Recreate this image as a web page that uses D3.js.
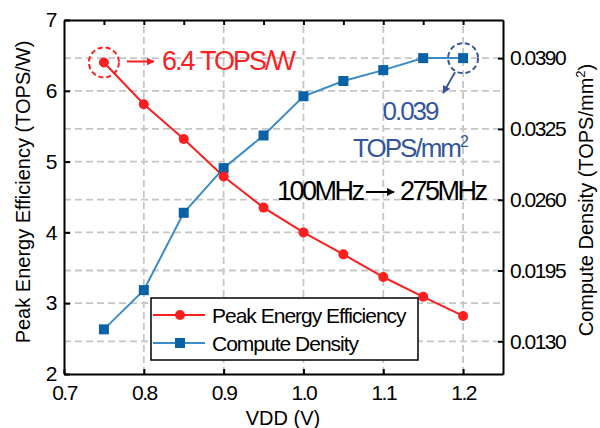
<!DOCTYPE html>
<html>
<head>
<meta charset="utf-8">
<script src="https://cdn.jsdelivr.net/npm/d3@7"></script>
<style>
  body { margin: 0; background: #fff; }
  svg { font-family: "Liberation Sans", Arial, sans-serif; }
</style>
</head>
<body>
<div id="chart"></div>
<script>
// values
const vdd = [0.75, 0.8, 0.85, 0.9, 0.95, 1.0, 1.05, 1.1, 1.15, 1.2];
const efficiency = [6.4, 5.81, 5.32, 4.79, 4.35, 4.0, 3.69, 3.37, 3.09, 2.82];
const density = [0.0141, 0.0177, 0.0248, 0.0289, 0.0319, 0.0355, 0.0369, 0.0379, 0.0390, 0.0390];

const xTicks = [0.7, 0.8, 0.9, 1.0, 1.1, 1.2];
const xMinorTicks = [0.75, 0.8, 0.85, 0.9, 0.95, 1.0, 1.05, 1.1, 1.15, 1.2];
const leftTicks = [2, 3, 4, 5, 6, 7];
const rightTicks = [0.013, 0.0195, 0.026, 0.0325, 0.039];

const red = "#fb1f1f";
const blueLine = "#3b8cc6";
const blueMark = "#0a62a6";
const navy = "#33569c";

function buildChart() {
    const svg = d3.select("#chart")
        .append("svg")
        .attr("width", 600)
        .attr("height", 428);

    const x = d3.scaleLinear().domain([0.7, 1.25]).range([64, 503]);
    const yL = d3.scaleLinear().domain([2, 7]).range([374, 20]);
    const yR = d3.scaleLinear().domain([0.0100, 0.0425]).range([374, 20]);

    // dashed grid
    const grid = svg.append("g")
        .attr("stroke", "#c6c6c6")
        .attr("stroke-width", 1.8)
        .attr("stroke-dasharray", "7,4");
    grid.selectAll(".gx").data(xTicks.slice(1)).enter().append("line")
        .attr("x1", d => x(d)).attr("x2", d => x(d))
        .attr("y1", yL(2)).attr("y2", yL(7));
    grid.selectAll(".gl").data(leftTicks.slice(1, -1)).enter().append("line")
        .attr("x1", x(0.7)).attr("x2", x(1.25))
        .attr("y1", d => yL(d)).attr("y2", d => yL(d));
    grid.selectAll(".gr").data(rightTicks).enter().append("line")
        .attr("x1", x(0.7)).attr("x2", x(1.25))
        .attr("y1", d => yR(d)).attr("y2", d => yR(d));

    // axes, ticks pointing inward
    const styleAxis = g => {
        g.select(".domain").attr("stroke", "#000").attr("stroke-width", 2);
        g.selectAll(".tick line").attr("stroke", "#000").attr("stroke-width", 2);
        g.selectAll(".tick text")
            .attr("fill", "#000")
            .style("font-size", "21px")
            .style("letter-spacing", "-1.5px");
    };

    svg.append("g")
        .attr("transform", `translate(0,${yL(2)})`)
        .call(d3.axisBottom(x).tickValues(xTicks).tickFormat(d3.format(".1f"))
            .tickSize(-5).tickSizeOuter(0).tickPadding(11))
        .call(styleAxis);

    svg.append("g")
        .attr("transform", `translate(0,${yL(7)})`)
        .call(d3.axisTop(x).tickValues(xMinorTicks).tickFormat("")
            .tickSize(-5).tickSizeOuter(0))
        .call(styleAxis);

    svg.append("g")
        .attr("transform", `translate(${x(0.7)},0)`)
        .call(d3.axisLeft(yL).tickValues(leftTicks).tickFormat(d3.format("d"))
            .tickSize(-6).tickSizeOuter(0).tickPadding(8))
        .call(styleAxis);

    svg.append("g")
        .attr("transform", `translate(${x(1.25)},0)`)
        .call(d3.axisRight(yR).tickValues(rightTicks).tickFormat(d3.format(".4f"))
            .tickSize(-5).tickSizeOuter(0).tickPadding(7))
        .call(styleAxis);

    // axis titles
    svg.append("text")
        .attr("x", 283).attr("y", 425)
        .attr("text-anchor", "middle")
        .style("font-size", "20px")
        .text("VDD (V)");

    svg.append("text")
        .attr("transform", "translate(30,192) rotate(-90)")
        .attr("text-anchor", "middle")
        .style("font-size", "20px")
        .text("Peak Energy Efficiency (TOPS/W)");

    const rTitle = svg.append("text")
        .attr("transform", "translate(593,200) rotate(-90)")
        .attr("text-anchor", "middle")
        .style("font-size", "20px");
    rTitle.append("tspan").text("Compute Density (TOPS/mm");
    rTitle.append("tspan").attr("dy", -8).style("font-size", "13px").text("2");
    rTitle.append("tspan").attr("dy", 8).text(")");

    // series
    const effLine = d3.line().x((d, i) => x(vdd[i])).y(d => yL(d));
    const denLine = d3.line().x((d, i) => x(vdd[i])).y(d => yR(d));

    svg.append("path").datum(density)
        .attr("fill", "none").attr("stroke", blueLine).attr("stroke-width", 2)
        .attr("d", denLine);
    svg.append("path").datum(efficiency)
        .attr("fill", "none").attr("stroke", red).attr("stroke-width", 2)
        .attr("d", effLine);

    svg.selectAll(".sq").data(density).enter().append("rect")
        .attr("x", (d, i) => x(vdd[i]) - 5)
        .attr("y", d => yR(d) - 5)
        .attr("width", 10).attr("height", 10)
        .attr("fill", blueMark);
    svg.selectAll(".dot").data(efficiency).enter().append("circle")
        .attr("cx", (d, i) => x(vdd[i]))
        .attr("cy", d => yL(d))
        .attr("r", 5)
        .attr("fill", red);

    // arrow heads
    const defs = svg.append("defs");
    [["headRed", red], ["headNavy", navy], ["headBlack", "#000"]].forEach(([id, c]) => {
        defs.append("marker")
            .attr("id", id)
            .attr("viewBox", "0 0 10 10")
            .attr("refX", 9).attr("refY", 5)
            .attr("markerWidth", 4).attr("markerHeight", 4)
            .attr("orient", "auto")
            .append("path").attr("d", "M0,0 L10,5 L0,10 Z").attr("fill", c);
    });

    // annotation: peak efficiency
    const ex = x(vdd[0]), ey = yL(efficiency[0]);
    svg.append("circle")
        .attr("cx", ex).attr("cy", ey).attr("r", 15)
        .attr("fill", "none").attr("stroke", red).attr("stroke-width", 2)
        .attr("stroke-dasharray", "5,3");
    svg.append("line")
        .attr("x1", ex + 23).attr("x2", ex + 50)
        .attr("y1", ey - 1).attr("y2", ey - 1)
        .attr("stroke", red).attr("stroke-width", 2)
        .attr("marker-end", "url(#headRed)");
    const effNote = svg.append("text")
        .attr("y", 70)
        .attr("fill", red)
        .style("font-size", "27px")
        .style("letter-spacing", "-2px");
    effNote.append("tspan").attr("x", 162).text("6.4");
    effNote.append("tspan").attr("x", 200).text("TOPS/W");

    // annotation: peak density
    const dx = x(vdd[9]), dy = yR(density[9]);
    svg.append("circle")
        .attr("cx", dx).attr("cy", dy).attr("r", 15)
        .attr("fill", "none").attr("stroke", navy).attr("stroke-width", 2)
        .attr("stroke-dasharray", "5,3");
    svg.append("line")
        .attr("x1", dx - 8).attr("y1", dy + 14)
        .attr("x2", dx - 20).attr("y2", dy + 35)
        .attr("stroke", navy).attr("stroke-width", 2)
        .attr("marker-end", "url(#headNavy)");
    svg.append("text")
        .attr("x", 410).attr("y", 120)
        .attr("text-anchor", "middle")
        .attr("fill", navy)
        .style("font-size", "26px")
        .style("letter-spacing", "-2px")
        .text("0.039");
    const dt = svg.append("text")
        .attr("x", 410).attr("y", 157)
        .attr("text-anchor", "middle")
        .attr("fill", navy)
        .style("font-size", "26px")
        .style("letter-spacing", "-2px");
    dt.append("tspan").text("TOPS/mm");
    dt.append("tspan").attr("dy", -10).style("font-size", "16px").text("2");

    // frequency note
    svg.append("text")
        .attr("x", 277).attr("y", 200)
        .style("font-size", "27px")
        .style("letter-spacing", "-2.5px")
        .text("100MHz");
    svg.append("line")
        .attr("x1", 366).attr("x2", 394)
        .attr("y1", 192).attr("y2", 192)
        .attr("stroke", "#000").attr("stroke-width", 2)
        .attr("marker-end", "url(#headBlack)");
    svg.append("text")
        .attr("x", 400).attr("y", 200)
        .style("font-size", "27px")
        .style("letter-spacing", "-2.5px")
        .text("275MHz");

    // legend
    const legend = svg.append("g").attr("transform", "translate(151,298)");
    legend.append("rect")
        .attr("width", 267).attr("height", 62)
        .attr("fill", "#fff").attr("stroke", "#000").attr("stroke-width", 1.5);
    const items = [
        { label: "Peak Energy Efficiency", color: red, shape: "circle" },
        { label: "Compute Density", color: blueLine, mark: blueMark, shape: "square" }
    ];
    items.forEach((it, i) => {
        const row = legend.append("g").attr("transform", `translate(0,${17 + i * 28})`);
        row.append("line").attr("x1", 2).attr("x2", 54)
            .attr("stroke", it.color).attr("stroke-width", 2);
        if (it.shape === "circle") {
            row.append("circle").attr("cx", 29).attr("r", 5).attr("fill", it.color);
        } else {
            row.append("rect").attr("x", 24).attr("y", -5)
                .attr("width", 10).attr("height", 10).attr("fill", it.mark);
        }
        row.append("text").attr("x", 61).attr("y", 8)
            .style("font-size", "21px")
            .style("letter-spacing", "-1px")
            .text(it.label);
    });
}

window.addEventListener("load", () => {
    buildChart();
});
</script>
</body>
</html>
